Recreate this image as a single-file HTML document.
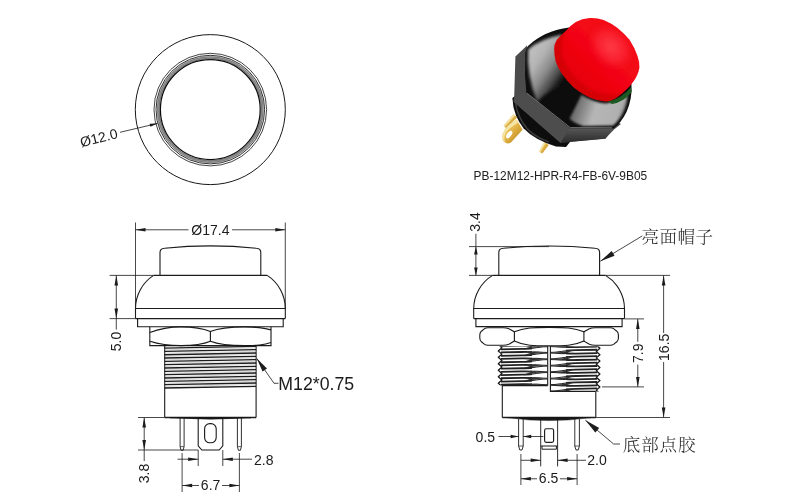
<!DOCTYPE html>
<html lang="zh"><head><meta charset="utf-8"><title>PB-12M12-HPR-R4-FB-6V-9B05</title>
<style>html,body{margin:0;padding:0;background:#fff}svg{display:block}</style></head>
<body><svg width="800" height="503" viewBox="0 0 800 503">
<rect width="800" height="503" fill="#fff"/>
<defs>
<radialGradient id="capHi" cx="0.5" cy="0.5" r="0.5"><stop offset="0" stop-color="#ff4652"/><stop offset="0.55" stop-color="#fb2433"/><stop offset="1" stop-color="#f00a18" stop-opacity="0"/></radialGradient>
<linearGradient id="capBase" x1="0.1" y1="0.9" x2="0.9" y2="0.1"><stop offset="0" stop-color="#e0000c"/><stop offset="0.5" stop-color="#f20512"/><stop offset="1" stop-color="#f50c1a"/></linearGradient>
<linearGradient id="domeHi1" x1="0" y1="0" x2="0.75" y2="0.9"><stop offset="0" stop-color="#cacaca"/><stop offset="0.4" stop-color="#b4b4b4"/><stop offset="0.62" stop-color="#8a8a8a"/><stop offset="0.82" stop-color="#444"/><stop offset="1" stop-color="#0b0b0b" stop-opacity="0"/></linearGradient>
<linearGradient id="domeHi2" x1="0" y1="0.4" x2="1" y2="0.6"><stop offset="0" stop-color="#565656"/><stop offset="0.25" stop-color="#8a8a8a"/><stop offset="0.45" stop-color="#b6b6b6"/><stop offset="0.85" stop-color="#b0b0b0"/><stop offset="1" stop-color="#707070"/></linearGradient>
<linearGradient id="hexB" x1="0" y1="0" x2="0" y2="1"><stop offset="0" stop-color="#5a5a5a"/><stop offset="1" stop-color="#2a2a2a"/></linearGradient>
<linearGradient id="gold" x1="0" y1="0" x2="1" y2="1"><stop offset="0" stop-color="#f8e49a"/><stop offset="0.5" stop-color="#e2b244"/><stop offset="1" stop-color="#b07c18"/></linearGradient>
<filter id="soft" x="-20%" y="-20%" width="140%" height="140%"><feGaussianBlur stdDeviation="0.5"/></filter>
<filter id="soft2" x="-20%" y="-20%" width="140%" height="140%"><feGaussianBlur stdDeviation="1.6"/></filter>
<clipPath id="capClip"><path d="M589.7,18 Q582,18.8 575.8,21.9 Q570,25.6 565.8,30.9 Q560.6,35.4 556.9,39.8 Q554,44.4 554.3,49.8 Q554.4,56 555.9,61.7 Q558,67.8 561.9,73.6 Q567,81.2 573.8,87.5 Q581,93.4 589.7,97.5 Q598,101 605.6,101.5 Q611,101 615.5,98.5 Q623,93.4 629.5,86.5 L633.4,81.6 Q638,75.4 639.4,67.7 Q639.6,61.6 637.4,55.7 Q634.4,47.4 629.5,39.8 Q624,33.2 617.5,27.9 Q611,23 603.6,19.9 Q596.6,17.6 589.7,18 Z"/></clipPath>
<filter id="soft3" x="-20%" y="-20%" width="140%" height="140%"><feGaussianBlur stdDeviation="0.8"/></filter>
<filter id="lineSoft" x="0" y="0" width="800" height="503" filterUnits="userSpaceOnUse"><feGaussianBlur stdDeviation="0.33"/></filter>
</defs>
<g filter="url(#soft)">
<!-- gold terminals -->
<path d="M513.6,114.2 L517.2,117.6 L506.2,128.4 L503.6,125.6 Z" fill="#dcb04a"/>
<path d="M513.6,114.2 L515,115.4 L504.6,126.8 L503.6,125.6 Z" fill="#f6e6a6"/>
<path d="M516.6,119.6 L522.6,129.8 L511.2,142.2 Q507.4,144.8 504.2,142 Q501.2,138.8 502.8,133.4 Q504.4,128.6 509,125 Z" fill="url(#gold)"/>
<path d="M516.6,119.6 L518.4,122.4 L509.6,128.4 Q505.6,131.6 504.6,136.4 Q503.8,140 505.8,142.8 Q501,139.6 502.8,133.4 Q504.4,128.6 509,125 Z" fill="#f8ecb4" opacity="0.8"/>
<ellipse cx="509.2" cy="134.6" rx="2.2" ry="4.4" transform="rotate(35 509.2 134.6)" fill="#fff"/>
<path d="M544.2,142 L548.8,145 L542.2,153.6 L539,151.6 Z" fill="url(#gold)"/>
<path d="M544.2,142 L545.6,142.8 L540.2,152.4 L539,151.6 Z" fill="#f6e6a6"/>
<!-- threaded body -->
<path d="M512.4,98 Q512.6,107 516,115.5 Q519,122.6 523.5,128.2 Q529.6,134.6 537.2,138.8 Q546,143.6 556,146.6 L566,147 L578,132 L520,92 Z" fill="#0c0c0c"/>
<path d="M515.4,103 Q518,118 527,128.6 Q536,137.6 549,142" fill="none" stroke="#3a3a3a" stroke-width="1.6"/>
<!-- hex base -->
<path d="M527,45.6 L515.4,56.6 L514.2,97 L513.6,101.8 L560.4,142.8 L605.4,138.6 L614,129.6 L621,124 L575,100 L530,80 Z" fill="#4c4c4c"/>
<path d="M570,127.4 L613.5,127.8 L605.4,138.8 L560.4,142.8 Z" fill="url(#hexB)"/>
<path d="M514.2,97 L526,92.5 L570,127.4 L560.4,142.8 L513.6,101.8 Z" fill="#4e4e4e"/>
<!-- dome -->
<path d="M525.2,58 Q524.6,50 528,46 Q545,30.5 569,27.6 L600,40 L631.4,84 Q632.6,98 626.5,112 Q621,123 613.6,128.6 L570,128.2 L526.4,93 Q524.4,76 525.2,58 Z" fill="#0b0b0b"/>
</g>
<!-- dome highlights -->
<g filter="url(#soft2)">
<path d="M528.2,49.5 Q540,38.8 562,34.8 L566,86 Q549,88 537,102 Q526.4,74 528.2,49.5 Z" fill="url(#domeHi1)"/>

</g>
<path d="M581.4,95 Q594,102.6 606,103.6 Q617,102 627.4,93 Q628,103 622.6,113.4 Q618.6,121 613,125.6 L583,126 Q575,123.6 569.6,118.8 Z" fill="url(#domeHi2)" filter="url(#soft3)"/>
<path d="M527,93.2 L570.2,127.6 L612,127.8" fill="none" stroke="#9a9a9a" stroke-width="0.7" filter="url(#soft)"/>
<!-- green sliver -->
<path d="M608,101.5 Q622,99 631,87 L631.6,92 Q624,102 612,104 Z" fill="#1f5a22" filter="url(#soft)"/>
<!-- red cap -->
<g filter="url(#soft)">
<path d="M589.7,18 Q582,18.8 575.8,21.9 Q570,25.6 565.8,30.9 Q560.6,35.4 556.9,39.8 Q554,44.4 554.3,49.8 Q554.4,56 555.9,61.7 Q558,67.8 561.9,73.6 Q567,81.2 573.8,87.5 Q581,93.4 589.7,97.5 Q598,101 605.6,101.5 Q611,101 615.5,98.5 Q623,93.4 629.5,86.5 L633.4,81.6 Q638,75.4 639.4,67.7 Q639.6,61.6 637.4,55.7 Q634.4,47.4 629.5,39.8 Q624,33.2 617.5,27.9 Q611,23 603.6,19.9 Q596.6,17.6 589.7,18 Z" fill="url(#capBase)"/>
</g>
<g clip-path="url(#capClip)" filter="url(#soft2)">
<path d="M552,40 Q550,62 562,78 Q578,98 606,104 L630,92 Q612,98 592,90 Q570,78 562,56 Q560,44 566,30 Z" fill="#c4000a" opacity="0.55"/>
</g>
<g clip-path="url(#capClip)"><ellipse cx="611" cy="47" rx="22" ry="29" transform="rotate(-42 611 47)" fill="url(#capHi)" filter="url(#soft2)" opacity="0.8"/></g>

<g filter="url(#lineSoft)">
<circle cx="210.3" cy="109.6" r="75" fill="none" stroke="#1a1a1a" stroke-width="1"/>
<circle cx="210.3" cy="109.6" r="51.9" fill="none" stroke="#a2a2a2" stroke-width="3.0"/>
<circle cx="210.3" cy="109.6" r="52.8" fill="none" stroke="#666" stroke-width="0.6"/>
<circle cx="210.3" cy="109.6" r="51.4" fill="none" stroke="#555" stroke-width="0.6"/>
<circle cx="210.3" cy="109.6" r="56.3" fill="none" stroke="#222" stroke-width="0.85"/>
<circle cx="210.3" cy="109.6" r="54.3" fill="none" stroke="#1a1a1a" stroke-width="0.9"/>
<circle cx="210.3" cy="109.6" r="49.9" fill="none" stroke="#111" stroke-width="1.25"/>
<line x1="120.00" y1="132.30" x2="157.60" y2="123.40" stroke="#1a1a1a" stroke-width="0.8"/>
<polygon points="157.60,123.40 150.38,126.75 149.64,123.64" fill="#1a1a1a"/>
<text x="81.50" y="147.20" font-family="'Liberation Sans', Arial, sans-serif" font-size="14" text-anchor="start" fill="#1a1a1a" transform="rotate(-14 81.50 147.20)" >Ø12.0</text>
<line x1="135.50" y1="222.50" x2="135.50" y2="308.50" stroke="#1a1a1a" stroke-width="0.8"/>
<line x1="285.30" y1="222.50" x2="285.30" y2="308.50" stroke="#1a1a1a" stroke-width="0.8"/>
<line x1="188.50" y1="229.80" x2="135.50" y2="229.80" stroke="#1a1a1a" stroke-width="0.8"/>
<polygon points="135.50,229.80 145.50,228.00 145.50,231.60" fill="#1a1a1a"/>
<line x1="232.00" y1="229.80" x2="285.30" y2="229.80" stroke="#1a1a1a" stroke-width="0.8"/>
<polygon points="285.30,229.80 275.30,231.60 275.30,228.00" fill="#1a1a1a"/>
<text x="210.40" y="234.70" font-family="'Liberation Sans', Arial, sans-serif" font-size="14" text-anchor="middle" fill="#1a1a1a" >Ø17.4</text>
<path d="M160,275.4 L160,252.6 Q160,248.4 164.5,248.2 Q210.4,243.6 256.3,248.2 Q260.8,248.4 260.8,252.6 L260.8,275.4" stroke="#1a1a1a" stroke-width="1.1" fill="none" />
<line x1="153.60" y1="275.40" x2="267.20" y2="275.40" stroke="#1a1a1a" stroke-width="1.3"/>
<path d="M153.6,275.4 A39.4,39.4 0 0 0 135.5,308.5 L135.5,318.6" stroke="#1a1a1a" stroke-width="1.1" fill="none" />
<path d="M267.2,275.4 A39.4,39.4 0 0 1 285.3,308.5 L285.3,318.6" stroke="#1a1a1a" stroke-width="1.1" fill="none" />
<line x1="135.50" y1="308.50" x2="285.30" y2="308.50" stroke="#1a1a1a" stroke-width="1.1"/>
<line x1="135.50" y1="318.60" x2="285.30" y2="318.60" stroke="#1a1a1a" stroke-width="1.3"/>
<path d="M137.6,318.6 L137.6,326.8 L283.2,326.8 L283.2,318.6" stroke="#1a1a1a" stroke-width="1.1" fill="none" />
<path d="M149.8,326.8 L149.8,345.6 L271,345.6 L271,326.8" stroke="#1a1a1a" stroke-width="1.1" fill="none" />
<line x1="210.40" y1="331.60" x2="210.40" y2="341.30" stroke="#1a1a1a" stroke-width="1.1"/>
<path d="M149.8,332.5 C160,328.5 168,326.9 181,326.9 S202,328 210.4,331.6 C219,328 232,326.9 245,326.9 S263,327.6 271,329.9" stroke="#1a1a1a" stroke-width="1.1" fill="none" />
<path d="M149.8,341.3 C160,344.6 168,345.6 181,345.6 S202,344.8 210.4,341.3 C219,344.8 232,345.6 245,345.6 S263,345 271,342.4" stroke="#1a1a1a" stroke-width="1.1" fill="none" />
<path d="M164.7,345.6 L164.7,417.5 M256.1,345.6 L256.1,417.5" stroke="#1a1a1a" stroke-width="1.1" fill="none" />
<line x1="164.70" y1="348.05" x2="256.10" y2="346.35" stroke="#1a1a1a" stroke-width="1.35"/>
<line x1="164.70" y1="349.75" x2="256.10" y2="348.05" stroke="#b0b0b0" stroke-width="0.5"/>
<line x1="164.70" y1="351.38" x2="256.10" y2="349.68" stroke="#1a1a1a" stroke-width="1.35"/>
<line x1="164.70" y1="353.08" x2="256.10" y2="351.38" stroke="#b0b0b0" stroke-width="0.5"/>
<line x1="164.70" y1="354.71" x2="256.10" y2="353.01" stroke="#1a1a1a" stroke-width="1.35"/>
<line x1="164.70" y1="356.41" x2="256.10" y2="354.71" stroke="#b0b0b0" stroke-width="0.5"/>
<line x1="164.70" y1="358.04" x2="256.10" y2="356.34" stroke="#1a1a1a" stroke-width="1.35"/>
<line x1="164.70" y1="359.74" x2="256.10" y2="358.04" stroke="#b0b0b0" stroke-width="0.5"/>
<line x1="164.70" y1="361.37" x2="256.10" y2="359.67" stroke="#1a1a1a" stroke-width="1.35"/>
<line x1="164.70" y1="363.07" x2="256.10" y2="361.37" stroke="#b0b0b0" stroke-width="0.5"/>
<line x1="164.70" y1="364.70" x2="256.10" y2="363.00" stroke="#1a1a1a" stroke-width="1.35"/>
<line x1="164.70" y1="366.40" x2="256.10" y2="364.70" stroke="#b0b0b0" stroke-width="0.5"/>
<line x1="164.70" y1="368.03" x2="256.10" y2="366.33" stroke="#1a1a1a" stroke-width="1.35"/>
<line x1="164.70" y1="369.73" x2="256.10" y2="368.03" stroke="#b0b0b0" stroke-width="0.5"/>
<line x1="164.70" y1="371.36" x2="256.10" y2="369.66" stroke="#1a1a1a" stroke-width="1.35"/>
<line x1="164.70" y1="373.06" x2="256.10" y2="371.36" stroke="#b0b0b0" stroke-width="0.5"/>
<line x1="164.70" y1="374.69" x2="256.10" y2="372.99" stroke="#1a1a1a" stroke-width="1.35"/>
<line x1="164.70" y1="376.39" x2="256.10" y2="374.69" stroke="#b0b0b0" stroke-width="0.5"/>
<line x1="164.70" y1="378.02" x2="256.10" y2="376.32" stroke="#1a1a1a" stroke-width="1.35"/>
<line x1="164.70" y1="379.72" x2="256.10" y2="378.02" stroke="#b0b0b0" stroke-width="0.5"/>
<line x1="164.70" y1="381.35" x2="256.10" y2="379.65" stroke="#1a1a1a" stroke-width="1.35"/>
<line x1="164.70" y1="383.05" x2="256.10" y2="381.35" stroke="#b0b0b0" stroke-width="0.5"/>
<line x1="164.70" y1="384.68" x2="256.10" y2="382.98" stroke="#1a1a1a" stroke-width="1.35"/>
<line x1="164.70" y1="386.38" x2="256.10" y2="384.68" stroke="#b0b0b0" stroke-width="0.5"/>
<line x1="164.70" y1="388.01" x2="256.10" y2="386.31" stroke="#1a1a1a" stroke-width="1.35"/>
<line x1="164.70" y1="417.50" x2="256.10" y2="417.50" stroke="#1a1a1a" stroke-width="1.5"/>
<path d="M170,417.8 Q210.4,420.6 251,417.8 Z" stroke="#1a1a1a" stroke-width="0.5" fill="#1a1a1a" />
<path d="M180.1,417.5 L180.1,446.6 L181.1,450.3 L183.1,450.3 L184.1,446.6 L184.1,417.5" stroke="#1a1a1a" stroke-width="0.9" fill="none" />
<line x1="180.10" y1="446.60" x2="184.10" y2="446.60" stroke="#1a1a1a" stroke-width="0.7"/>
<path d="M237.4,417.5 L237.4,446.6 L238.4,450.3 L240.4,450.3 L241.4,446.6 L241.4,417.5" stroke="#1a1a1a" stroke-width="0.9" fill="none" />
<line x1="237.40" y1="446.60" x2="241.40" y2="446.60" stroke="#1a1a1a" stroke-width="0.7"/>
<path d="M198.2,417.5 L198.2,445.8 L201.8,450 L219.2,450 L222.8,445.8 L222.8,417.5" stroke="#1a1a1a" stroke-width="1.1" fill="none" />
<rect x="204.6" y="423.6" width="11.6" height="19.2" rx="5.2" ry="5.2" fill="none" stroke="#1a1a1a" stroke-width="1.1"/>
<line x1="109.60" y1="275.40" x2="153.60" y2="275.40" stroke="#1a1a1a" stroke-width="0.8"/>
<line x1="109.60" y1="318.60" x2="135.50" y2="318.60" stroke="#1a1a1a" stroke-width="0.8"/>
<line x1="116.30" y1="275.40" x2="116.30" y2="329.60" stroke="#1a1a1a" stroke-width="0.8"/>
<polygon points="116.30,275.40 118.10,285.40 114.50,285.40" fill="#1a1a1a"/>
<polygon points="116.30,318.60 114.50,308.60 118.10,308.60" fill="#1a1a1a"/>
<text x="121.30" y="341.50" font-family="'Liberation Sans', Arial, sans-serif" font-size="14" text-anchor="middle" fill="#1a1a1a" transform="rotate(-90 121.30 341.50)" >5.0</text>
<line x1="138.00" y1="417.50" x2="164.70" y2="417.50" stroke="#1a1a1a" stroke-width="0.8"/>
<line x1="138.00" y1="450.00" x2="198.20" y2="450.00" stroke="#1a1a1a" stroke-width="0.8"/>
<line x1="144.20" y1="417.50" x2="144.20" y2="461.00" stroke="#1a1a1a" stroke-width="0.8"/>
<polygon points="144.20,417.50 146.00,427.50 142.40,427.50" fill="#1a1a1a"/>
<polygon points="144.20,450.00 142.40,440.00 146.00,440.00" fill="#1a1a1a"/>
<text x="149.20" y="473.50" font-family="'Liberation Sans', Arial, sans-serif" font-size="14" text-anchor="middle" fill="#1a1a1a" transform="rotate(-90 149.20 473.50)" >3.8</text>
<line x1="198.20" y1="450.00" x2="198.20" y2="466.00" stroke="#1a1a1a" stroke-width="0.8"/>
<line x1="222.80" y1="450.00" x2="222.80" y2="466.00" stroke="#1a1a1a" stroke-width="0.8"/>
<line x1="177.50" y1="459.20" x2="198.20" y2="459.20" stroke="#1a1a1a" stroke-width="0.8"/>
<polygon points="198.20,459.20 188.20,461.00 188.20,457.40" fill="#1a1a1a"/>
<line x1="252.00" y1="459.20" x2="222.80" y2="459.20" stroke="#1a1a1a" stroke-width="0.8"/>
<polygon points="222.80,459.20 232.80,457.40 232.80,461.00" fill="#1a1a1a"/>
<text x="254.00" y="464.80" font-family="'Liberation Sans', Arial, sans-serif" font-size="14" text-anchor="start" fill="#1a1a1a" >2.8</text>
<line x1="182.10" y1="453.00" x2="182.10" y2="492.00" stroke="#1a1a1a" stroke-width="0.8"/>
<line x1="239.40" y1="453.00" x2="239.40" y2="492.00" stroke="#1a1a1a" stroke-width="0.8"/>
<line x1="199.00" y1="485.50" x2="182.10" y2="485.50" stroke="#1a1a1a" stroke-width="0.8"/>
<polygon points="182.10,485.50 192.10,483.70 192.10,487.30" fill="#1a1a1a"/>
<line x1="222.00" y1="485.50" x2="239.40" y2="485.50" stroke="#1a1a1a" stroke-width="0.8"/>
<polygon points="239.40,485.50 229.40,487.30 229.40,483.70" fill="#1a1a1a"/>
<text x="210.60" y="490.30" font-family="'Liberation Sans', Arial, sans-serif" font-size="14" text-anchor="middle" fill="#1a1a1a" >6.7</text>
<path d="M256.8,358.5 L274,383.3 L278.5,383.3" stroke="#1a1a1a" stroke-width="0.8" fill="none" />
<polygon points="256.80,358.50 267.00,368.47 262.56,371.54" fill="#1a1a1a"/>
<text x="278.30" y="389.80" font-family="'Liberation Sans', Arial, sans-serif" font-size="17.8" text-anchor="start" fill="#1a1a1a" textLength="75.8" lengthAdjust="spacingAndGlyphs">M12*0.75</text>
<path d="M498.8,275.4 L498.8,252.6 Q498.8,248.4 503.3,248.2 Q549.2,243.8 595.1,248.2 Q599.6,248.4 599.6,252.6 L599.6,275.4" stroke="#1a1a1a" stroke-width="1.1" fill="none" />
<line x1="492.60" y1="275.40" x2="605.60" y2="275.40" stroke="#1a1a1a" stroke-width="1.3"/>
<path d="M492.6,275.4 A39.4,39.4 0 0 0 473.7,308.5 L473.7,318.6" stroke="#1a1a1a" stroke-width="1.1" fill="none" />
<path d="M605.6,275.4 A39.4,39.4 0 0 1 624.5,308.5 L624.5,318.6" stroke="#1a1a1a" stroke-width="1.1" fill="none" />
<line x1="473.70" y1="308.50" x2="624.50" y2="308.50" stroke="#1a1a1a" stroke-width="1.1"/>
<line x1="473.70" y1="318.60" x2="624.50" y2="318.60" stroke="#1a1a1a" stroke-width="1.3"/>
<path d="M475.9,318.6 L475.9,326.6 L622.1,326.6 L622.1,318.6" stroke="#1a1a1a" stroke-width="1.1" fill="none" />
<path d="M479.8,335 Q479.8,332.6 481.4,331.2 L484.6,328.6 Q485.8,327.7 488,327.7 L503,327.7 Q506.6,327.7 509.4,329 L514.4,331.8 C524,327.4 534,327.4 549.1,327.4 S574,327.4 583.9,331.8 L588.9,329 Q591.6,327.7 595.2,327.7 L610.2,327.7 Q612.4,327.7 613.6,328.6 L616.8,331.2 Q618.4,332.6 618.4,335 L618.4,338 Q618.4,340.4 616.8,341.8 L613.6,344.4 Q612.4,345.3 610.2,345.3 L595.2,345.3 Q591.6,345.3 588.9,344 L583.9,341 C574,345.8 564,345.9 549.1,345.9 S524,345.8 514.4,341 L509.4,344 Q506.6,345.3 503,345.3 L488,345.3 Q485.8,345.3 484.6,344.4 L481.4,341.8 Q479.8,340.4 479.8,338 Z" stroke="#1a1a1a" stroke-width="1.1" fill="none" />
<line x1="514.40" y1="331.80" x2="514.40" y2="341.00" stroke="#1a1a1a" stroke-width="1.1"/>
<line x1="583.90" y1="331.80" x2="583.90" y2="341.00" stroke="#1a1a1a" stroke-width="1.1"/>
<path d="M547.7,346 L547.7,385.4 M550.4,346 L550.4,391.4 L595.8,391.4" stroke="#1a1a1a" stroke-width="1.1" fill="none" />
<clipPath id="thL"><rect x="495" y="346.2" width="52.7" height="39.4"/></clipPath>
<clipPath id="thR"><rect x="550.4" y="346.2" width="53" height="45.2"/></clipPath>
<g clip-path="url(#thL)">
<path d="M501.90,341.22 L498.30,344.45 L501.90,347.67 L498.30,350.90 L501.90,354.12 L498.30,357.35 L501.90,360.57 L498.30,363.80 L501.90,367.02 L498.30,370.25 L501.90,373.47 L498.30,376.70 L501.90,379.92 L498.30,383.15 L501.90,386.37 L498.30,389.60 L501.90,392.82" stroke="#1a1a1a" stroke-width="1.3" fill="none" stroke-linejoin="round"/>
<path d="M501,342.90 L522,342.45 Q529,342.25 532,341.95" stroke="#222" stroke-width="1.8" fill="none" />
<path d="M501,346.00 L522,345.55 Q529,345.45 532,345.75" stroke="#222" stroke-width="1.8" fill="none" />
<path d="M530,342.15 Q537,341.12 543,340.42 L547.7,340.27" stroke="#222" stroke-width="1.0" fill="none" />
<path d="M530,345.55 Q537,345.18 543,345.88 L547.7,346.02" stroke="#222" stroke-width="1.0" fill="none" />
<path d="M524,345.75 L535,345.48 L543,346.38 L535,347.27 L524,349.00 L531,346.38 Z" stroke="#333" stroke-width="0.3" fill="#333" />
<path d="M501,349.35 L522,348.90 Q529,348.70 532,348.40" stroke="#222" stroke-width="1.8" fill="none" />
<path d="M501,352.45 L522,352.00 Q529,351.90 532,352.20" stroke="#222" stroke-width="1.8" fill="none" />
<path d="M530,348.60 Q537,347.57 543,346.87 L547.7,346.72" stroke="#222" stroke-width="1.0" fill="none" />
<path d="M530,352.00 Q537,351.62 543,352.32 L547.7,352.47" stroke="#222" stroke-width="1.0" fill="none" />
<path d="M524,352.20 L535,351.93 L543,352.82 L535,353.72 L524,355.45 L531,352.82 Z" stroke="#333" stroke-width="0.3" fill="#333" />
<path d="M501,355.80 L522,355.35 Q529,355.15 532,354.85" stroke="#222" stroke-width="1.8" fill="none" />
<path d="M501,358.90 L522,358.45 Q529,358.35 532,358.65" stroke="#222" stroke-width="1.8" fill="none" />
<path d="M530,355.05 Q537,354.02 543,353.32 L547.7,353.17" stroke="#222" stroke-width="1.0" fill="none" />
<path d="M530,358.45 Q537,358.07 543,358.77 L547.7,358.92" stroke="#222" stroke-width="1.0" fill="none" />
<path d="M524,358.65 L535,358.38 L543,359.27 L535,360.17 L524,361.90 L531,359.27 Z" stroke="#333" stroke-width="0.3" fill="#333" />
<path d="M501,362.25 L522,361.80 Q529,361.60 532,361.30" stroke="#222" stroke-width="1.8" fill="none" />
<path d="M501,365.35 L522,364.90 Q529,364.80 532,365.10" stroke="#222" stroke-width="1.8" fill="none" />
<path d="M530,361.50 Q537,360.47 543,359.77 L547.7,359.62" stroke="#222" stroke-width="1.0" fill="none" />
<path d="M530,364.90 Q537,364.53 543,365.23 L547.7,365.38" stroke="#222" stroke-width="1.0" fill="none" />
<path d="M524,365.10 L535,364.83 L543,365.73 L535,366.62 L524,368.35 L531,365.73 Z" stroke="#333" stroke-width="0.3" fill="#333" />
<path d="M501,368.70 L522,368.25 Q529,368.05 532,367.75" stroke="#222" stroke-width="1.8" fill="none" />
<path d="M501,371.80 L522,371.35 Q529,371.25 532,371.55" stroke="#222" stroke-width="1.8" fill="none" />
<path d="M530,367.95 Q537,366.92 543,366.22 L547.7,366.07" stroke="#222" stroke-width="1.0" fill="none" />
<path d="M530,371.35 Q537,370.98 543,371.68 L547.7,371.82" stroke="#222" stroke-width="1.0" fill="none" />
<path d="M524,371.55 L535,371.28 L543,372.18 L535,373.07 L524,374.80 L531,372.18 Z" stroke="#333" stroke-width="0.3" fill="#333" />
<path d="M501,375.15 L522,374.70 Q529,374.50 532,374.20" stroke="#222" stroke-width="1.8" fill="none" />
<path d="M501,378.25 L522,377.80 Q529,377.70 532,378.00" stroke="#222" stroke-width="1.8" fill="none" />
<path d="M530,374.40 Q537,373.37 543,372.67 L547.7,372.52" stroke="#222" stroke-width="1.0" fill="none" />
<path d="M530,377.80 Q537,377.43 543,378.12 L547.7,378.27" stroke="#222" stroke-width="1.0" fill="none" />
<path d="M524,378.00 L535,377.73 L543,378.62 L535,379.52 L524,381.25 L531,378.62 Z" stroke="#333" stroke-width="0.3" fill="#333" />
<path d="M501,381.60 L522,381.15 Q529,380.95 532,380.65" stroke="#222" stroke-width="1.8" fill="none" />
<path d="M501,384.70 L522,384.25 Q529,384.15 532,384.45" stroke="#222" stroke-width="1.8" fill="none" />
<path d="M530,380.85 Q537,379.82 543,379.12 L547.7,378.97" stroke="#222" stroke-width="1.0" fill="none" />
<path d="M530,384.25 Q537,383.88 543,384.57 L547.7,384.72" stroke="#222" stroke-width="1.0" fill="none" />
<path d="M524,384.45 L535,384.18 L543,385.07 L535,385.97 L524,387.70 L531,385.07 Z" stroke="#333" stroke-width="0.3" fill="#333" />
<path d="M501,388.05 L522,387.60 Q529,387.40 532,387.10" stroke="#222" stroke-width="1.8" fill="none" />
<path d="M501,391.15 L522,390.70 Q529,390.60 532,390.90" stroke="#222" stroke-width="1.8" fill="none" />
<path d="M530,387.30 Q537,386.27 543,385.57 L547.7,385.42" stroke="#222" stroke-width="1.0" fill="none" />
<path d="M530,390.70 Q537,390.32 543,391.02 L547.7,391.17" stroke="#222" stroke-width="1.0" fill="none" />
<path d="M524,390.90 L535,390.62 L543,391.52 L535,392.42 L524,394.15 L531,391.52 Z" stroke="#333" stroke-width="0.3" fill="#333" />
</g>
<line x1="502.20" y1="385.60" x2="547.70" y2="385.60" stroke="#1a1a1a" stroke-width="1.1"/>
<g clip-path="url(#thR)">
<path d="M596.30,338.52 L599.90,341.75 L596.30,344.97 L599.90,348.20 L596.30,351.42 L599.90,354.65 L596.30,357.88 L599.90,361.10 L596.30,364.32 L599.90,367.55 L596.30,370.77 L599.90,374.00 L596.30,377.22 L599.90,380.45 L596.30,383.67 L599.90,386.90 L596.30,390.12 L599.90,393.35 L596.30,396.58" stroke="#1a1a1a" stroke-width="1.3" fill="none" stroke-linejoin="round"/>
<path d="M597.2,340.20 L576,340.65 Q569,340.75 566,340.45" stroke="#222" stroke-width="1.8" fill="none" />
<path d="M597.2,343.30 L576,343.75 Q569,343.95 566,344.25" stroke="#222" stroke-width="1.8" fill="none" />
<path d="M568,340.65 Q561,341.02 555,340.32 L550.4,340.18" stroke="#222" stroke-width="1.0" fill="none" />
<path d="M568,344.05 Q561,345.08 555,345.78 L550.4,345.93" stroke="#222" stroke-width="1.0" fill="none" />
<path d="M574,343.65 L563,345.38 L555,346.28 L563,347.18 L574,346.90 L567,346.28 Z" stroke="#333" stroke-width="0.3" fill="#333" />
<path d="M597.2,346.65 L576,347.10 Q569,347.20 566,346.90" stroke="#222" stroke-width="1.8" fill="none" />
<path d="M597.2,349.75 L576,350.20 Q569,350.40 566,350.70" stroke="#222" stroke-width="1.8" fill="none" />
<path d="M568,347.10 Q561,347.47 555,346.77 L550.4,346.62" stroke="#222" stroke-width="1.0" fill="none" />
<path d="M568,350.50 Q561,351.53 555,352.23 L550.4,352.38" stroke="#222" stroke-width="1.0" fill="none" />
<path d="M574,350.10 L563,351.83 L555,352.73 L563,353.62 L574,353.35 L567,352.73 Z" stroke="#333" stroke-width="0.3" fill="#333" />
<path d="M597.2,353.10 L576,353.55 Q569,353.65 566,353.35" stroke="#222" stroke-width="1.8" fill="none" />
<path d="M597.2,356.20 L576,356.65 Q569,356.85 566,357.15" stroke="#222" stroke-width="1.8" fill="none" />
<path d="M568,353.55 Q561,353.92 555,353.22 L550.4,353.07" stroke="#222" stroke-width="1.0" fill="none" />
<path d="M568,356.95 Q561,357.98 555,358.68 L550.4,358.82" stroke="#222" stroke-width="1.0" fill="none" />
<path d="M574,356.55 L563,358.28 L555,359.18 L563,360.07 L574,359.80 L567,359.18 Z" stroke="#333" stroke-width="0.3" fill="#333" />
<path d="M597.2,359.55 L576,360.00 Q569,360.10 566,359.80" stroke="#222" stroke-width="1.8" fill="none" />
<path d="M597.2,362.65 L576,363.10 Q569,363.30 566,363.60" stroke="#222" stroke-width="1.8" fill="none" />
<path d="M568,360.00 Q561,360.38 555,359.68 L550.4,359.53" stroke="#222" stroke-width="1.0" fill="none" />
<path d="M568,363.40 Q561,364.43 555,365.13 L550.4,365.28" stroke="#222" stroke-width="1.0" fill="none" />
<path d="M574,363.00 L563,364.73 L555,365.63 L563,366.53 L574,366.25 L567,365.63 Z" stroke="#333" stroke-width="0.3" fill="#333" />
<path d="M597.2,366.00 L576,366.45 Q569,366.55 566,366.25" stroke="#222" stroke-width="1.8" fill="none" />
<path d="M597.2,369.10 L576,369.55 Q569,369.75 566,370.05" stroke="#222" stroke-width="1.8" fill="none" />
<path d="M568,366.45 Q561,366.82 555,366.12 L550.4,365.98" stroke="#222" stroke-width="1.0" fill="none" />
<path d="M568,369.85 Q561,370.88 555,371.58 L550.4,371.73" stroke="#222" stroke-width="1.0" fill="none" />
<path d="M574,369.45 L563,371.18 L555,372.08 L563,372.98 L574,372.70 L567,372.08 Z" stroke="#333" stroke-width="0.3" fill="#333" />
<path d="M597.2,372.45 L576,372.90 Q569,373.00 566,372.70" stroke="#222" stroke-width="1.8" fill="none" />
<path d="M597.2,375.55 L576,376.00 Q569,376.20 566,376.50" stroke="#222" stroke-width="1.8" fill="none" />
<path d="M568,372.90 Q561,373.27 555,372.57 L550.4,372.43" stroke="#222" stroke-width="1.0" fill="none" />
<path d="M568,376.30 Q561,377.33 555,378.03 L550.4,378.18" stroke="#222" stroke-width="1.0" fill="none" />
<path d="M574,375.90 L563,377.63 L555,378.53 L563,379.43 L574,379.15 L567,378.53 Z" stroke="#333" stroke-width="0.3" fill="#333" />
<path d="M597.2,378.90 L576,379.35 Q569,379.45 566,379.15" stroke="#222" stroke-width="1.8" fill="none" />
<path d="M597.2,382.00 L576,382.45 Q569,382.65 566,382.95" stroke="#222" stroke-width="1.8" fill="none" />
<path d="M568,379.35 Q561,379.72 555,379.02 L550.4,378.88" stroke="#222" stroke-width="1.0" fill="none" />
<path d="M568,382.75 Q561,383.78 555,384.48 L550.4,384.62" stroke="#222" stroke-width="1.0" fill="none" />
<path d="M574,382.35 L563,384.08 L555,384.98 L563,385.88 L574,385.60 L567,384.98 Z" stroke="#333" stroke-width="0.3" fill="#333" />
<path d="M597.2,385.35 L576,385.80 Q569,385.90 566,385.60" stroke="#222" stroke-width="1.8" fill="none" />
<path d="M597.2,388.45 L576,388.90 Q569,389.10 566,389.40" stroke="#222" stroke-width="1.8" fill="none" />
<path d="M568,385.80 Q561,386.17 555,385.47 L550.4,385.32" stroke="#222" stroke-width="1.0" fill="none" />
<path d="M568,389.20 Q561,390.23 555,390.93 L550.4,391.07" stroke="#222" stroke-width="1.0" fill="none" />
<path d="M574,388.80 L563,390.53 L555,391.43 L563,392.32 L574,392.05 L567,391.43 Z" stroke="#333" stroke-width="0.3" fill="#333" />
<path d="M597.2,391.80 L576,392.25 Q569,392.35 566,392.05" stroke="#222" stroke-width="1.8" fill="none" />
<path d="M597.2,394.90 L576,395.35 Q569,395.55 566,395.85" stroke="#222" stroke-width="1.8" fill="none" />
<path d="M568,392.25 Q561,392.62 555,391.93 L550.4,391.78" stroke="#222" stroke-width="1.0" fill="none" />
<path d="M568,395.65 Q561,396.68 555,397.38 L550.4,397.53" stroke="#222" stroke-width="1.0" fill="none" />
<path d="M574,395.25 L563,396.98 L555,397.88 L563,398.78 L574,398.50 L567,397.88 Z" stroke="#333" stroke-width="0.3" fill="#333" />
</g>
<path d="M502.3,385.6 L502.3,417.5 M595.8,391.4 L595.8,417.5" stroke="#1a1a1a" stroke-width="1.1" fill="none" />
<line x1="502.30" y1="417.50" x2="595.80" y2="417.50" stroke="#1a1a1a" stroke-width="1.5"/>
<path d="M507,417.6 Q549,423.6 591,417.6 Z" stroke="#1a1a1a" stroke-width="0.5" fill="#1a1a1a" />
<path d="M518.6,419 L518.6,446 L519.8,450 L522.0,450 L523.1999999999999,446 L523.1999999999999,419" stroke="#1a1a1a" stroke-width="0.9" fill="none" />
<line x1="518.60" y1="446.00" x2="523.20" y2="446.00" stroke="#1a1a1a" stroke-width="0.7"/>
<path d="M574.8000000000001,419 L574.8000000000001,446 L576.0,450 L578.2,450 L579.4,446 L579.4,419" stroke="#1a1a1a" stroke-width="0.9" fill="none" />
<line x1="574.80" y1="446.00" x2="579.40" y2="446.00" stroke="#1a1a1a" stroke-width="0.7"/>
<path d="M540.7,418 L540.7,466.4 M557.6,418 L557.6,466.4" stroke="#1a1a1a" stroke-width="0.9" fill="none" />
<path d="M540.7,446 L557.6,446 M542,449.2 L556.4,449.2 M542,446 L542,449.2 M556.4,446 L556.4,449.2" stroke="#1a1a1a" stroke-width="1.0" fill="none" />
<rect x="544.6" y="428.8" width="9" height="13.6" rx="1.6" fill="none" stroke="#1a1a1a" stroke-width="1.1"/>
<line x1="469.00" y1="246.60" x2="549.00" y2="246.60" stroke="#1a1a1a" stroke-width="0.8"/>
<line x1="469.00" y1="275.40" x2="492.60" y2="275.40" stroke="#1a1a1a" stroke-width="0.8"/>
<line x1="475.90" y1="233.80" x2="475.90" y2="275.40" stroke="#1a1a1a" stroke-width="0.8"/>
<polygon points="475.90,246.60 477.70,254.60 474.10,254.60" fill="#1a1a1a"/>
<polygon points="475.90,275.40 474.10,267.40 477.70,267.40" fill="#1a1a1a"/>
<text x="480.00" y="222.00" font-family="'Liberation Sans', Arial, sans-serif" font-size="14" text-anchor="middle" fill="#1a1a1a" transform="rotate(-90 480.00 222.00)" >3.4</text>
<line x1="605.60" y1="275.40" x2="670.00" y2="275.40" stroke="#1a1a1a" stroke-width="0.8"/>
<line x1="595.80" y1="417.50" x2="670.00" y2="417.50" stroke="#1a1a1a" stroke-width="0.8"/>
<line x1="663.60" y1="275.40" x2="663.60" y2="333.00" stroke="#1a1a1a" stroke-width="0.8"/>
<line x1="663.60" y1="362.00" x2="663.60" y2="417.50" stroke="#1a1a1a" stroke-width="0.8"/>
<polygon points="663.60,275.40 665.40,285.40 661.80,285.40" fill="#1a1a1a"/>
<polygon points="663.60,417.50 661.80,407.50 665.40,407.50" fill="#1a1a1a"/>
<text x="668.60" y="347.30" font-family="'Liberation Sans', Arial, sans-serif" font-size="14" text-anchor="middle" fill="#1a1a1a" transform="rotate(-90 668.60 347.30)" >16.5</text>
<line x1="624.50" y1="318.90" x2="644.00" y2="318.90" stroke="#1a1a1a" stroke-width="0.8"/>
<line x1="602.00" y1="386.90" x2="644.00" y2="386.90" stroke="#1a1a1a" stroke-width="0.8"/>
<line x1="637.80" y1="318.90" x2="637.80" y2="341.80" stroke="#1a1a1a" stroke-width="0.8"/>
<line x1="637.80" y1="364.60" x2="637.80" y2="386.90" stroke="#1a1a1a" stroke-width="0.8"/>
<polygon points="637.80,318.90 639.60,328.90 636.00,328.90" fill="#1a1a1a"/>
<polygon points="637.80,386.90 636.00,376.90 639.60,376.90" fill="#1a1a1a"/>
<text x="642.80" y="353.20" font-family="'Liberation Sans', Arial, sans-serif" font-size="14" text-anchor="middle" fill="#1a1a1a" transform="rotate(-90 642.80 353.20)" >7.9</text>
<line x1="498.40" y1="436.50" x2="518.60" y2="436.50" stroke="#1a1a1a" stroke-width="0.8"/>
<polygon points="518.60,436.50 510.60,438.30 510.60,434.70" fill="#1a1a1a"/>
<line x1="543.40" y1="436.50" x2="523.20" y2="436.50" stroke="#1a1a1a" stroke-width="0.8"/>
<polygon points="523.20,436.50 531.20,434.70 531.20,438.30" fill="#1a1a1a"/>
<text x="475.60" y="441.60" font-family="'Liberation Sans', Arial, sans-serif" font-size="14" text-anchor="start" fill="#1a1a1a" >0.5</text>
<line x1="520.90" y1="454.00" x2="520.90" y2="485.00" stroke="#1a1a1a" stroke-width="0.8"/>
<line x1="577.10" y1="454.00" x2="577.10" y2="485.00" stroke="#1a1a1a" stroke-width="0.8"/>
<line x1="520.90" y1="460.30" x2="540.70" y2="460.30" stroke="#1a1a1a" stroke-width="0.8"/>
<polygon points="540.70,460.30 530.70,462.10 530.70,458.50" fill="#1a1a1a"/>
<line x1="586.00" y1="460.30" x2="557.60" y2="460.30" stroke="#1a1a1a" stroke-width="0.8"/>
<polygon points="557.60,460.30 567.60,458.50 567.60,462.10" fill="#1a1a1a"/>
<text x="587.30" y="465.30" font-family="'Liberation Sans', Arial, sans-serif" font-size="14" text-anchor="start" fill="#1a1a1a" >2.0</text>
<line x1="537.00" y1="478.80" x2="520.90" y2="478.80" stroke="#1a1a1a" stroke-width="0.8"/>
<polygon points="520.90,478.80 530.90,477.00 530.90,480.60" fill="#1a1a1a"/>
<line x1="560.00" y1="478.80" x2="577.10" y2="478.80" stroke="#1a1a1a" stroke-width="0.8"/>
<polygon points="577.10,478.80 567.10,480.60 567.10,477.00" fill="#1a1a1a"/>
<text x="548.60" y="483.40" font-family="'Liberation Sans', Arial, sans-serif" font-size="14" text-anchor="middle" fill="#1a1a1a" >6.5</text>
<line x1="600.30" y1="261.20" x2="642.30" y2="235.90" stroke="#1a1a1a" stroke-width="0.8"/>
<polygon points="600.30,261.20 611.70,251.06 614.59,255.86" fill="#1a1a1a"/>
<text x="641.60" y="242.80" font-family="'Liberation Serif', 'Noto Serif CJK SC', serif" font-size="17.5" text-anchor="start" fill="#2a2a2a" letter-spacing="0.5" font-weight="300">亮面帽子</text>
<path d="M585.4,420.2 L613.6,444 L620,444" stroke="#1a1a1a" stroke-width="0.8" fill="none" />
<polygon points="585.40,420.20 599.18,427.90 595.31,432.49" fill="#1a1a1a"/>
<text x="622.80" y="451.30" font-family="'Liberation Serif', 'Noto Serif CJK SC', serif" font-size="17.5" text-anchor="start" fill="#2a2a2a" letter-spacing="0.9" font-weight="300">底部点胶</text>
<text x="473.60" y="180.10" font-family="'Liberation Sans', Arial, sans-serif" font-size="12" text-anchor="start" fill="#222" textLength="173.6" lengthAdjust="spacingAndGlyphs">PB-12M12-HPR-R4-FB-6V-9B05</text>
</g>
</svg></body></html>
